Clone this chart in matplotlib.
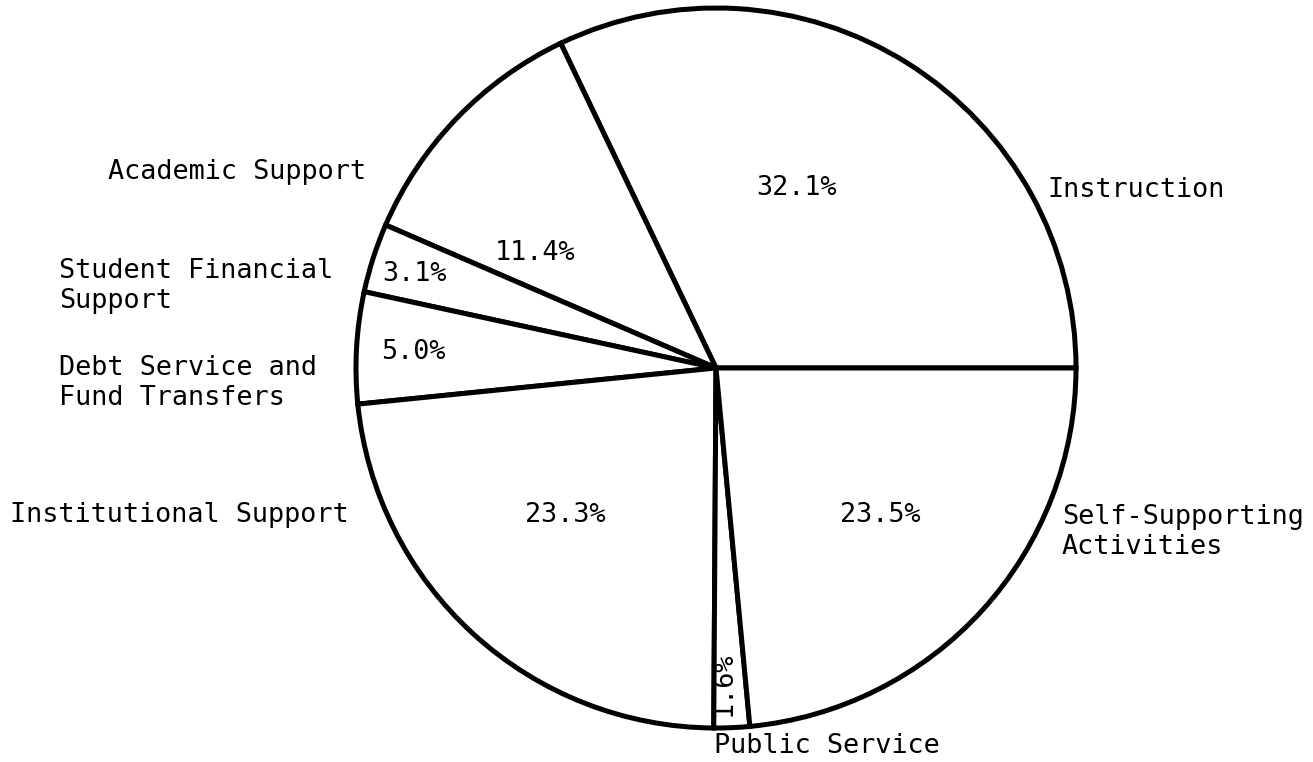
import matplotlib.pyplot as plt

# expenditure shares, counter-clockwise from 3 o'clock
categories = ["Instruction", "Academic Support", "Student Financial\nSupport",
              "Debt Service and\nFund Transfers", "Institutional Support",
              "Public Service", "Self-Supporting\nActivities"]
shares = [32.1, 11.4, 3.1, 5.0, 23.3, 1.6, 23.5]
pct_labels = ["32.1%", "11.4%", "3.1%", "5.0%", "23.3%", "1.6%", "23.5%"]

W, H = 1313, 762
# label placement in picture pixels (x, y from top)
name_pos = [(1047, 190), (108, 172), (59, 286), (59, 383), (10, 515), (714, 746), (1062, 532)]
pct_pos = [(797, 188), (535, 253), (415, 274), (413, 352), (565, 515), (724, 684), (880, 515)]
pct_rot = [0, 0, 0, 0, 0, 90, 0]

fig = plt.figure(figsize=(W / 100, H / 100), dpi=100)
ax = fig.add_axes([0, 0, 1, 1])

ax.pie(shares, startangle=0, counterclock=True, center=(716, H - 368), radius=360,
       wedgeprops=dict(facecolor="white", edgecolor="black", linewidth=3.6))

font = dict(family="DejaVu Sans Mono", fontsize=19.4, color="black")
for name, (x, y) in zip(categories, name_pos):
    ax.text(x, H - y, name, ha="left", va="center", linespacing=1.2, **font)
for lab, (x, y), rot in zip(pct_labels, pct_pos, pct_rot):
    ax.text(x, H - y, lab, ha="center", va="center", rotation=rot, **font)

ax.set_xlim(0, W)
ax.set_ylim(0, H)
ax.set_aspect("equal")
ax.axis("off")
fig.savefig("out.png", dpi=100, facecolor="white")
